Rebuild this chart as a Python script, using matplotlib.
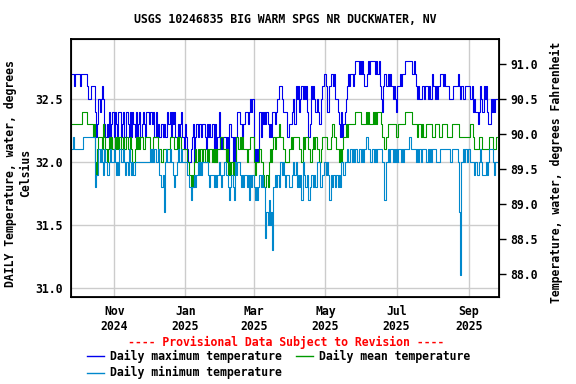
import numpy as np
import pandas as pd
import matplotlib
matplotlib.use("Agg")
import matplotlib.pyplot as plt
from matplotlib.lines import Line2D

# ── Daily values (deg C), first day 2024-09-25 ───────────────────────────────
start_date = "2024-09-25"

daily_max = [
    32.7, 32.7, 32.7, 32.6, 32.7, 32.7, 32.7, 32.7, 32.6, 32.7,
    32.7, 32.7, 32.7, 32.7, 32.6, 32.5, 32.5, 32.5, 32.6, 32.6,
    32.6, 32.4, 32.2, 32.3, 32.5, 32.4, 32.5, 32.6, 32.5, 32.3,
    32.2, 32.3, 32.2, 32.4, 32.2, 32.3, 32.4, 32.2, 32.4, 32.3,
    32.2, 32.4, 32.4, 32.2, 32.3, 32.4, 32.2, 32.2, 32.4, 32.3,
    32.2, 32.4, 32.2, 32.4, 32.3, 32.2, 32.4, 32.2, 32.3, 32.4,
    32.2, 32.3, 32.4, 32.3, 32.2, 32.4, 32.4, 32.3, 32.4, 32.4,
    32.3, 32.4, 32.2, 32.4, 32.2, 32.3, 32.2, 32.2, 32.3, 32.2,
    32.3, 32.2, 32.2, 32.4, 32.3, 32.4, 32.2, 32.4, 32.3, 32.4,
    32.2, 32.2, 32.3, 32.2, 32.3, 32.4, 32.2, 32.1, 32.3, 32.2,
    32.1, 32.0, 32.0, 32.1, 32.2, 32.3, 32.0, 32.2, 32.3, 32.2,
    32.3, 32.3, 32.2, 32.3, 32.3, 32.2, 32.1, 32.3, 32.2, 32.3,
    32.2, 32.3, 32.3, 32.0, 32.3, 32.0, 32.2, 32.4, 32.1, 32.2,
    32.1, 32.2, 32.2, 32.0, 32.2, 32.0, 32.3, 32.3, 32.2, 32.0,
    32.2, 32.0, 32.2, 32.4, 32.4, 32.3, 32.3, 32.2, 32.3, 32.3,
    32.4, 32.4, 32.3, 32.4, 32.5, 32.4, 32.5, 32.1, 32.0, 32.1,
    32.0, 32.1, 32.4, 32.2, 32.4, 32.3, 32.4, 32.3, 32.4, 32.3,
    32.2, 32.3, 32.2, 32.4, 32.4, 32.3, 32.4, 32.5, 32.5, 32.6,
    32.6, 32.5, 32.4, 32.4, 32.4, 32.4, 32.2, 32.3, 32.3, 32.3,
    32.4, 32.5, 32.3, 32.6, 32.5, 32.6, 32.4, 32.5, 32.6, 32.5,
    32.6, 32.5, 32.6, 32.4, 32.2, 32.3, 32.6, 32.5, 32.6, 32.5,
    32.4, 32.5, 32.4, 32.3, 32.3, 32.5, 32.6, 32.7, 32.7, 32.6,
    32.4, 32.4, 32.6, 32.7, 32.7, 32.6, 32.7, 32.5, 32.5, 32.4,
    32.3, 32.2, 32.4, 32.2, 32.3, 32.4, 32.5, 32.6, 32.7, 32.6,
    32.7, 32.7, 32.6, 32.7, 32.8, 32.8, 32.8, 32.7, 32.8, 32.7,
    32.8, 32.7, 32.6, 32.6, 32.7, 32.8, 32.7, 32.8, 32.8, 32.8,
    32.8, 32.7, 32.8, 32.7, 32.8, 32.6, 32.5, 32.4, 32.6, 32.7,
    32.6, 32.6, 32.7, 32.6, 32.7, 32.6, 32.5, 32.6, 32.5, 32.4,
    32.6, 32.6, 32.7, 32.6, 32.7, 32.7, 32.7, 32.8, 32.8, 32.8,
    32.8, 32.8, 32.8, 32.7, 32.8, 32.7, 32.6, 32.5, 32.6, 32.5,
    32.5, 32.6, 32.6, 32.5, 32.6, 32.6, 32.5, 32.6, 32.5, 32.5,
    32.7, 32.6, 32.5, 32.6, 32.5, 32.6, 32.6, 32.7, 32.7, 32.6,
    32.7, 32.6, 32.6, 32.6, 32.5, 32.5, 32.5, 32.5, 32.6, 32.6,
    32.6, 32.6, 32.7, 32.6, 32.5, 32.6, 32.5, 32.5, 32.6, 32.6,
    32.6, 32.6, 32.5, 32.5, 32.6, 32.4, 32.5, 32.4, 32.4, 32.3,
    32.4, 32.6, 32.5, 32.4, 32.6, 32.5, 32.6, 32.4, 32.3, 32.3,
    32.5, 32.4, 32.5, 32.4, 32.5, 32.5,
]

daily_mean = [
    32.3, 32.3, 32.3, 32.3, 32.3, 32.3, 32.3, 32.3, 32.3, 32.3,
    32.4, 32.4, 32.4, 32.4, 32.3, 32.3, 32.3, 32.3, 32.3, 32.2,
    32.3, 32.0, 31.9, 32.1, 32.2, 32.2, 32.2, 32.1, 32.3, 32.2,
    32.1, 32.0, 32.1, 32.2, 32.1, 32.2, 32.1, 32.1, 32.2, 32.1,
    32.2, 32.1, 32.2, 32.1, 32.1, 32.2, 32.1, 32.1, 32.2, 32.1,
    32.1, 32.2, 32.1, 32.0, 32.0, 32.1, 32.2, 32.1, 32.2, 32.1,
    32.2, 32.2, 32.1, 32.1, 32.2, 32.2, 32.2, 32.2, 32.1, 32.1,
    32.1, 32.2, 32.2, 32.2, 32.2, 32.1, 32.1, 32.1, 32.0, 32.1,
    32.1, 32.1, 32.1, 32.1, 32.1, 32.2, 32.2, 32.2, 32.2, 32.1,
    32.1, 32.2, 32.1, 32.2, 32.2, 32.1, 32.1, 32.1, 32.1, 32.1,
    32.0, 32.0, 31.9, 31.8, 31.9, 31.8, 32.0, 32.1, 32.0, 32.1,
    32.0, 32.1, 32.1, 32.0, 32.1, 32.0, 32.0, 32.1, 32.0, 32.1,
    32.1, 32.0, 32.1, 32.0, 32.1, 32.0, 32.1, 32.1, 32.2, 32.2,
    32.2, 32.1, 32.1, 32.0, 32.1, 31.9, 32.0, 31.9, 32.0, 31.9,
    32.0, 32.0, 32.2, 32.2, 32.1, 32.2, 32.1, 32.2, 32.1, 32.1,
    32.1, 32.0, 32.1, 32.1, 32.2, 32.2, 32.2, 32.0, 31.9, 32.0,
    32.0, 32.0, 32.1, 32.0, 32.0, 31.9, 31.8, 31.8, 31.9, 31.8,
    32.0, 32.1, 32.0, 32.1, 32.2, 32.1, 32.2, 32.2, 32.2, 32.3,
    32.2, 32.2, 32.1, 32.1, 32.0, 32.0, 32.0, 32.1, 32.1, 32.2,
    32.1, 32.2, 32.2, 32.2, 32.2, 32.2, 32.1, 32.1, 32.0, 32.2,
    32.1, 32.2, 32.2, 32.2, 32.1, 32.0, 32.0, 32.1, 32.2, 32.1,
    32.2, 32.1, 32.1, 32.0, 32.0, 32.1, 32.2, 32.2, 32.2, 32.2,
    32.1, 32.1, 32.1, 32.2, 32.3, 32.3, 32.2, 32.2, 32.1, 32.1,
    32.0, 32.1, 32.0, 32.1, 32.2, 32.2, 32.3, 32.2, 32.3, 32.3,
    32.3, 32.3, 32.3, 32.3, 32.4, 32.4, 32.4, 32.4, 32.4, 32.3,
    32.3, 32.3, 32.3, 32.4, 32.3, 32.4, 32.3, 32.3, 32.3, 32.4,
    32.3, 32.4, 32.3, 32.4, 32.4, 32.4, 32.3, 32.2, 32.2, 32.1,
    32.2, 32.2, 32.3, 32.3, 32.3, 32.3, 32.3, 32.3, 32.3, 32.2,
    32.2, 32.3, 32.3, 32.3, 32.3, 32.3, 32.3, 32.4, 32.4, 32.4,
    32.4, 32.4, 32.4, 32.3, 32.3, 32.3, 32.3, 32.2, 32.3, 32.3,
    32.2, 32.3, 32.2, 32.2, 32.2, 32.3, 32.3, 32.3, 32.3, 32.3,
    32.2, 32.2, 32.3, 32.3, 32.3, 32.3, 32.2, 32.2, 32.3, 32.3,
    32.3, 32.3, 32.3, 32.2, 32.2, 32.2, 32.2, 32.3, 32.3, 32.3,
    32.3, 32.3, 32.3, 32.2, 32.2, 32.2, 32.2, 32.2, 32.2, 32.2,
    32.2, 32.2, 32.3, 32.3, 32.3, 32.2, 32.1, 32.1, 32.1, 32.1,
    32.2, 32.2, 32.2, 32.1, 32.1, 32.1, 32.1, 32.1, 32.1, 32.2,
    32.2, 32.2, 32.1, 32.1, 32.1, 32.2,
]

daily_min = [
    32.1, 32.1, 32.2, 32.1, 32.1, 32.1, 32.1, 32.1, 32.1, 32.1,
    32.1, 32.2, 32.2, 32.2, 32.2, 32.2, 32.2, 32.2, 32.2, 32.2,
    32.2, 31.8, 31.9, 31.9, 32.1, 32.0, 32.1, 32.0, 31.9, 32.1,
    32.0, 31.9, 31.9, 32.0, 32.1, 32.0, 32.0, 32.1, 32.0, 31.9,
    32.0, 31.9, 32.1, 32.0, 32.0, 32.1, 32.0, 31.9, 32.0, 31.9,
    32.1, 32.0, 31.9, 32.0, 31.9, 32.0, 32.0, 32.0, 32.0, 32.0,
    32.0, 32.0, 32.0, 32.0, 32.0, 32.0, 32.0, 32.0, 32.1, 32.0,
    32.1, 32.0, 32.1, 32.0, 32.0, 32.1, 31.9, 31.9, 31.8, 31.9,
    31.6, 32.0, 32.1, 32.0, 32.0, 32.1, 32.0, 32.0, 31.9, 31.8,
    31.9, 32.0, 32.1, 32.0, 32.0, 32.1, 32.0, 32.0, 32.0, 32.0,
    31.9, 31.9, 31.8, 31.7, 31.8, 31.8, 31.9, 31.8, 31.9, 32.0,
    31.9, 32.0, 31.9, 32.0, 32.0, 32.0, 32.0, 32.0, 31.9, 31.8,
    31.9, 31.9, 31.9, 31.8, 31.9, 31.8, 31.9, 32.0, 31.9, 31.8,
    31.9, 31.9, 32.0, 31.9, 31.9, 31.8, 31.7, 31.8, 31.9, 31.8,
    31.7, 32.0, 31.9, 32.0, 32.0, 31.9, 31.8, 31.9, 31.8, 31.9,
    31.9, 31.8, 31.9, 31.7, 31.9, 31.8, 31.9, 31.8, 31.7, 31.8,
    31.7, 31.8, 31.9, 31.8, 31.9, 31.8, 31.8, 31.4, 31.6, 31.5,
    31.7, 31.5, 31.6, 31.3, 31.8, 31.9, 31.8, 31.9, 31.9, 31.8,
    32.0, 31.9, 32.0, 31.9, 31.8, 31.9, 31.9, 31.8, 31.8, 31.8,
    31.9, 32.0, 31.9, 32.0, 31.8, 31.9, 31.8, 31.9, 31.7, 32.0,
    31.9, 31.8, 31.8, 31.9, 31.7, 31.8, 31.9, 31.9, 31.8, 31.9,
    31.8, 32.0, 32.0, 32.0, 31.8, 31.8, 31.9, 32.0, 32.0, 31.9,
    32.0, 31.9, 31.7, 31.9, 31.8, 31.9, 31.9, 31.8, 31.9, 31.8,
    31.9, 31.8, 32.0, 32.0, 31.9, 32.0, 32.0, 32.1, 32.0, 32.0,
    32.1, 32.0, 32.1, 32.0, 32.1, 32.1, 32.0, 32.1, 32.1, 32.0,
    32.1, 32.0, 32.1, 32.2, 32.2, 32.1, 32.1, 32.0, 32.1, 32.1,
    32.0, 32.1, 32.0, 32.1, 32.1, 32.1, 32.1, 32.0, 32.0, 31.7,
    32.0, 32.0, 32.1, 32.0, 32.1, 32.1, 32.0, 32.1, 32.0, 32.1,
    32.0, 32.1, 32.1, 32.0, 32.1, 32.0, 32.1, 32.1, 32.1, 32.1,
    32.2, 32.2, 32.1, 32.1, 32.1, 32.1, 32.0, 32.1, 32.0, 32.1,
    32.0, 32.1, 32.1, 32.1, 32.1, 32.0, 32.1, 32.0, 32.1, 32.0,
    32.1, 32.1, 32.1, 32.0, 32.0, 32.0, 32.0, 32.1, 32.1, 32.1,
    32.1, 32.1, 32.1, 32.1, 32.1, 32.0, 32.0, 32.1, 32.1, 32.1,
    32.1, 32.1, 32.0, 31.6, 31.1, 32.0, 32.1, 32.0, 32.1, 32.1,
    32.0, 32.1, 32.0, 32.0, 32.0, 32.0, 31.9, 32.0, 31.9, 31.9,
    32.0, 32.1, 32.0, 31.9, 31.9, 31.9, 32.0, 31.9, 32.0, 32.1,
    32.1, 32.1, 32.0, 31.9, 32.0, 32.0,
]

# ticks / labels
x_ticks = ["2024-11-01", "2025-01-01", "2025-03-01", "2025-05-01", "2025-07-01", "2025-09-01"]
x_labels = ["Nov\n2024", "Jan\n2025", "Mar\n2025", "May\n2025", "Jul\n2025", "Sep\n2025"]
c_ticks = [31.0, 31.5, 32.0, 32.5]
f_ticks = [88.0, 88.5, 89.0, 89.5, 90.0, 90.5, 91.0]

TITLE = "USGS 10246835 BIG WARM SPGS NR DUCKWATER, NV"
COL_MAX = "#0000ee"
COL_MEAN = "#009900"
COL_MIN = "#0088cc"

FONT = dict(family="DejaVu Sans Mono", weight="bold", size=8.3)

dates = pd.date_range(start_date, periods=len(daily_max), freq="D")

fig = plt.figure(figsize=(5.76, 3.84), dpi=100)
ax = fig.add_axes([0.1233, 0.2273, 0.7435, 0.6704])

ax.plot(dates, daily_max, color=COL_MAX, lw=0.8, drawstyle="steps-mid")
ax.plot(dates, daily_mean, color=COL_MEAN, lw=0.8, drawstyle="steps-mid")
ax.plot(dates, daily_min, color=COL_MIN, lw=0.8, drawstyle="steps-mid")

ylo, yhi = 30.93, 32.975
ax.set_ylim(ylo, yhi)
ax.set_xlim(pd.Timestamp("2024-09-25"), pd.Timestamp("2025-09-27"))

ax.set_xticks(pd.to_datetime(x_ticks))
ax.set_xticklabels(x_labels, **FONT)
ax.set_yticks(c_ticks)
ax.set_yticklabels([f"{v:.1f}" for v in c_ticks], **FONT)
ax.tick_params(axis="both", length=0, pad=6)
ax.grid(True, color="#cccccc", lw=1.0)
ax.set_axisbelow(True)
for sp in ax.spines.values():
    sp.set_linewidth(1.3)

# Fahrenheit axis
ax2 = ax.twinx()
ax2.set_ylim(ylo * 1.8 + 32, yhi * 1.8 + 32)
ax2.set_yticks(f_ticks)
ax2.set_yticklabels([f"{v:.1f}" for v in f_ticks], **FONT)
ax2.tick_params(axis="y", length=5, width=1, pad=3)

# axis titles
fig.text(0.032, 0.549, "DAILY Temperature, water, degrees\nCelsius",
         rotation=90, ha="center", va="center", multialignment="center", **FONT)
fig.text(0.966, 0.551, "Temperature, water, degrees Fahrenheit",
         rotation=90, ha="center", va="center", **FONT)

fig.text(0.495, 0.950, TITLE, ha="center", va="center", **FONT)
fig.text(0.497, 0.107, "---- Provisional Data Subject to Revision ----",
         ha="center", va="center", color="red", **FONT)

# legend
legend_rows = [
    (0.151, 0.073, COL_MAX, "Daily maximum temperature"),
    (0.514, 0.073, COL_MEAN, "Daily mean temperature"),
    (0.151, 0.029, COL_MIN, "Daily minimum temperature"),
]
for x0, y0, col, label in legend_rows:
    fig.add_artist(Line2D([x0, x0 + 0.029], [y0, y0], color=col, lw=1.0,
                          transform=fig.transFigure))
    fig.text(x0 + 0.040, y0, label, ha="left", va="center", **FONT)

fig.savefig("out.png", dpi=100)
